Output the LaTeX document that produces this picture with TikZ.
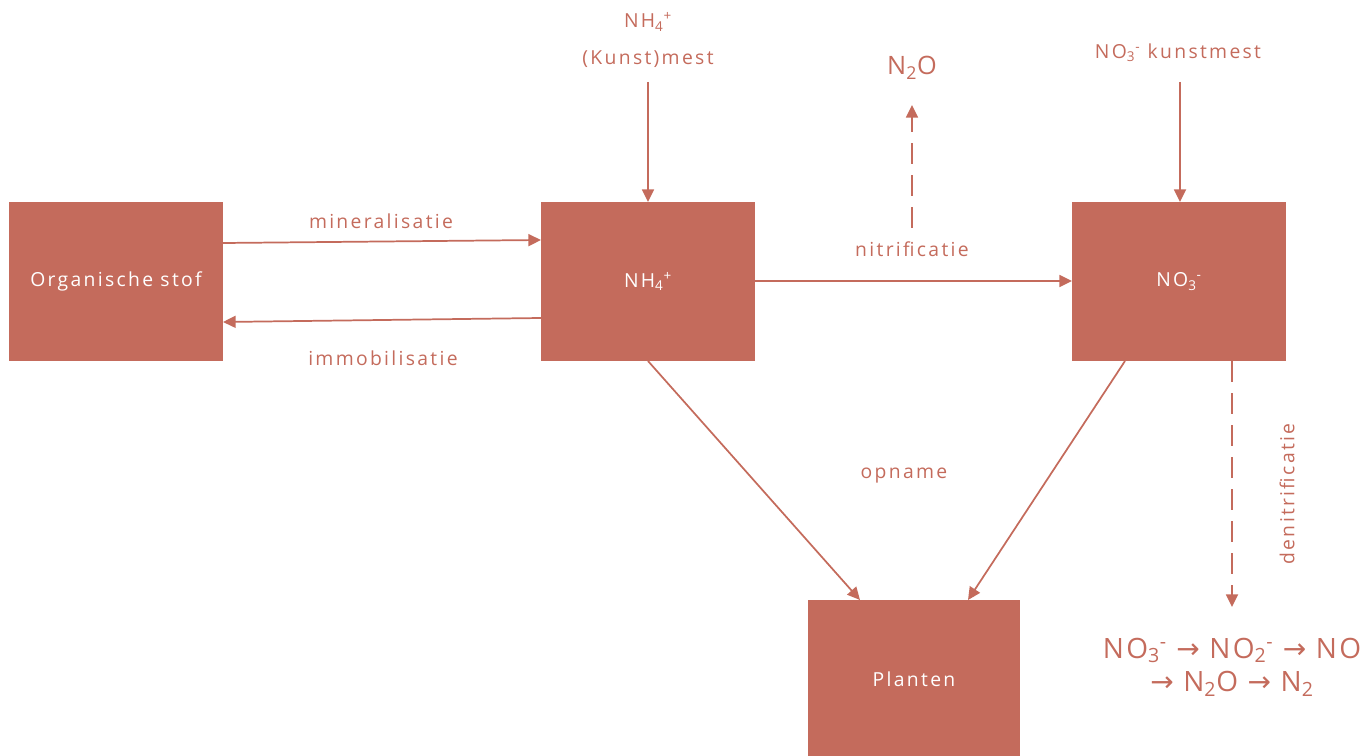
\documentclass[tikz,border=0pt]{standalone}
\usepackage{fontspec}
\setmainfont{Open Sans}
\newfontfamily\lsfont[LetterSpace=12]{Open Sans}
\newfontfamily\lsbig[LetterSpace=8]{Open Sans}
\newfontfamily\symfont{DejaVu Sans}
\usetikzlibrary{arrows.meta}
\definecolor{rust}{HTML}{C46B5C}
\newcommand{\ar}{{\symfont →}}
\begin{document}
\begin{tikzpicture}[x=0.75pt,y=-0.75pt,
  box/.style={fill=rust,draw=none,text=white,font=\lsfont\fontsize{14.5}{16}\selectfont},
  lbl/.style={text=rust,font=\lsfont\fontsize{14.5}{16}\selectfont,inner sep=0pt},
  conn/.style={draw=rust,line width=1.3pt,-{Triangle[length=9.5pt,width=9pt]}},
  dconn/.style={conn,dash pattern=on 16pt off 8pt}]
\useasboundingbox (0,0) rectangle (1371,756);
% boxes
\fill[rust] (9,202) rectangle (223,361);
\node[box] (org) at (116,281.5) {Organische stof};
\coordinate (orgE1) at (223,243);
\coordinate (orgE2) at (223,322);
\fill[rust] (541,202) rectangle (755,361);
\node[box] (nh) at (648,281.5) {NH\textsubscript{4}\textsuperscript{+}};
\coordinate (nhW1) at (541,240);
\coordinate (nhW2) at (541,318);
\coordinate (nhN) at (648,202);
\coordinate (nhE) at (755,281);
\coordinate (nhS) at (648,361);
\fill[rust] (1072,202) rectangle (1286,361);
\node[box] (no) at (1179,281.5) {NO\textsubscript{3}\textsuperscript{-}};
\coordinate (noW) at (1072,281);
\coordinate (noN) at (1180,202);
\coordinate (noS1) at (1125,361);
\coordinate (noS2) at (1232,361);
\fill[rust] (808,600) rectangle (1020,756);
\node[box] (pl) at (914,679) {Planten};
\coordinate (plN1) at (860,600);
\coordinate (plN2) at (968,600);
% labels
\node[lbl] (nhtop1) at (648,22) {NH\textsubscript{4}\textsuperscript{+}};
\node[lbl] (nhtop2) at (648,59) {(Kunst)mest};
\coordinate (nhtopS) at (648,82);
\node[lbl] (notop) at (1178,53) {NO\textsubscript{3}\textsuperscript{-} kunstmest};
\coordinate (notopS) at (1180,82);
\node[lbl,font=\lsbig\fontsize{19}{22}\selectfont] (n2o) at (912,68) {N\textsubscript{2}O};
\coordinate (n2oS) at (912,105);
\coordinate (nitrif) at (912,228);
\node[lbl] (lmin) at (381,221) {mineralisatie};
\node[lbl] (limm) at (383,358) {immobilisatie};
\node[lbl] (lnit) at (912,249) {nitrificatie};
\node[lbl] (lopn) at (904,476) {opname};
\node[lbl,rotate=90] (lden) at (1287,494) {denitrificatie};
\node[lbl,font=\lsbig\fontsize{21}{24}\selectfont,align=center] (form) at (1232,667)
  {NO\textsubscript{3}\textsuperscript{-} \ar{} NO\textsubscript{2}\textsuperscript{-} \ar{} NO\\[1pt]\ar{} N\textsubscript{2}O \ar{} N\textsubscript{2}};
\coordinate (formN) at (1232,607);
% connectors
\draw[conn] (orgE1) -- (nhW1);
\draw[conn] (nhW2) -- (orgE2);
\draw[conn] (nhE) -- (noW);
\draw[conn] (nhtopS) -- (nhN);
\draw[conn] (notopS) -- (noN);
\draw[dconn] (nitrif) -- (n2oS);
\draw[dconn] (noS2) -- (formN);
\draw[conn] (nhS) -- (plN1);
\draw[conn] (noS1) -- (plN2);
\end{tikzpicture}
\end{document}
